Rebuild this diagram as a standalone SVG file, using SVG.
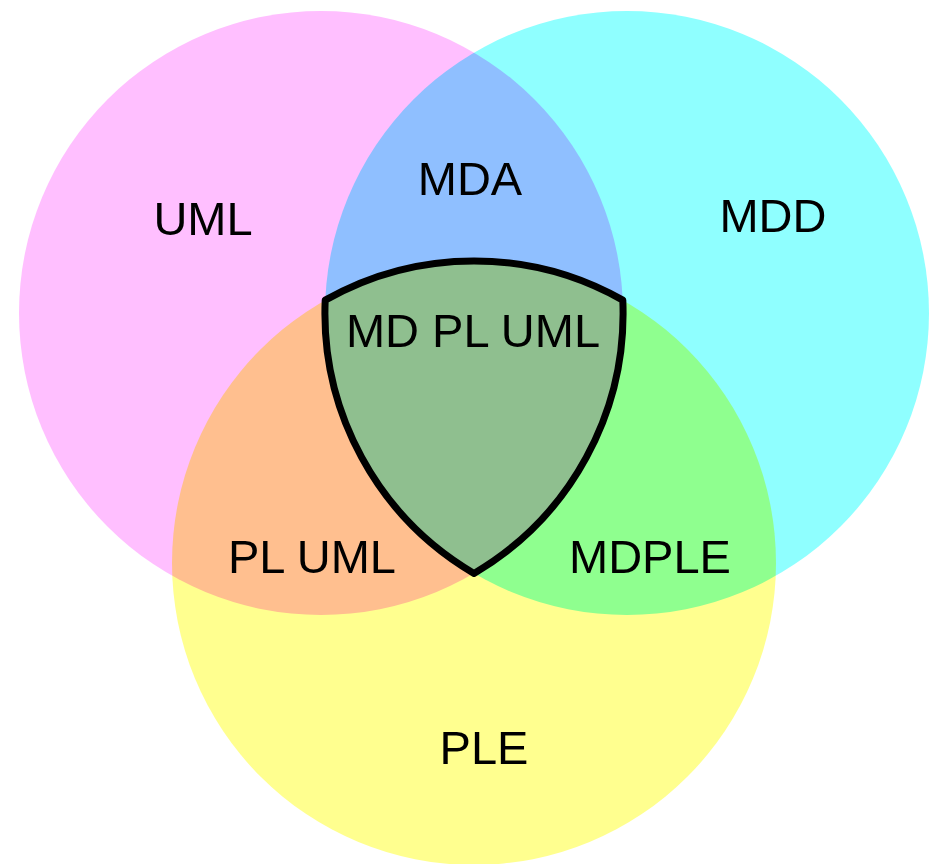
<svg xmlns="http://www.w3.org/2000/svg" width="929" height="864" viewBox="0 0 929 864">
  <style>
    .set { mix-blend-mode: multiply; }
    .lbl { font-family: "Liberation Sans", Arial, sans-serif; font-size: 47px; fill: #000; text-anchor: middle; }
    .core { fill: none; stroke: #000; stroke-width: 7; stroke-linejoin: round; }
  </style>
  <rect x="0" y="0" width="929" height="864" fill="#ffffff"/>
  <g id="sets">
    <g id="uml"><circle class="set" cx="321" cy="313" r="302" fill="#ffbfff"/></g>
    <g id="mdd"><circle class="set" cx="627" cy="313" r="302" fill="#8fffff"/></g>
    <g id="ple"><circle class="set" cx="474" cy="563" r="302" fill="#ffff8f"/></g>
  </g>
  <g id="core-outline">
    <path class="core" d="M 325.2 300.1 A 302 302 0 0 1 622.8 300.1 A 302 302 0 0 1 474 573.4 A 302 302 0 0 1 325.2 300.1 Z"/>
  </g>
  <g id="labels">
    <g id="label-uml"><text class="lbl" x="203" y="235">UML</text></g>
    <g id="label-mda"><text class="lbl" x="470" y="195">MDA</text></g>
    <g id="label-mdd"><text class="lbl" x="773" y="232">MDD</text></g>
    <g id="label-mdpluml"><text class="lbl" x="473" y="347">MD PL UML</text></g>
    <g id="label-pluml"><text class="lbl" x="312" y="573">PL UML</text></g>
    <g id="label-mdple"><text class="lbl" x="650" y="573">MDPLE</text></g>
    <g id="label-ple"><text class="lbl" x="484" y="764">PLE</text></g>
  </g>
  <g id="connectors"></g>
</svg>
